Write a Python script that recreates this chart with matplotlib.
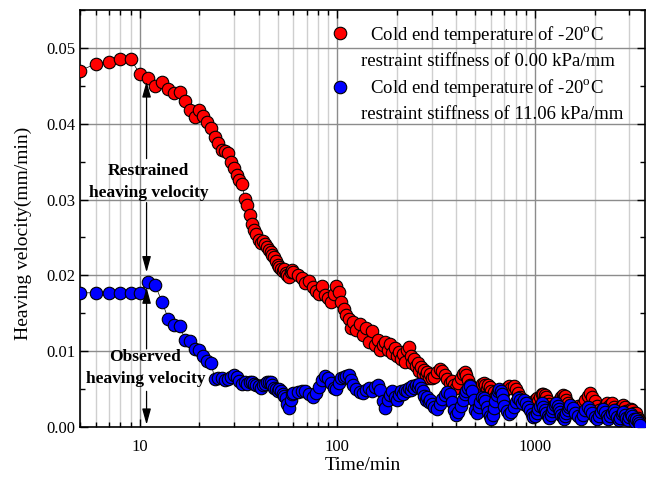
import numpy as np
import matplotlib
matplotlib.use("Agg")
import matplotlib.pyplot as plt
from matplotlib import ticker
from matplotlib.lines import Line2D

plt.rcParams['font.family'] = ['Liberation Serif', 'DejaVu Serif']
plt.rcParams['mathtext.fontset'] = 'custom'
plt.rcParams['mathtext.rm'] = 'Liberation Serif'

# sampling times (min)
t_seg1 = np.arange(5, 61)
t_seg2 = np.arange(63, 121, 3)
t_seg3 = np.arange(125, 301, 5)
t_seg4 = np.arange(310, 701, 10)
t_seg5 = np.arange(720, 1501, 20)
t_seg6 = np.arange(1550, 3401, 50)
t_all = np.concatenate([t_seg1, t_seg2, t_seg3, t_seg4, t_seg5, t_seg6])

# 0.00 kPa/mm
red_1 = [0.0470, 0.0479, 0.0482, 0.0486, 0.0486, 0.0466, 0.0461, 0.0450, 0.0455, 0.0446,
         0.0441, 0.0442, 0.0430, 0.0418, 0.0409, 0.0418, 0.0410, 0.0402, 0.0394, 0.0382,
         0.0374, 0.0366, 0.0364, 0.0361, 0.0349, 0.0342, 0.0333, 0.0326, 0.0321, 0.0301,
         0.0293, 0.0280, 0.0268, 0.0260, 0.0254, 0.0247, 0.0243, 0.0246, 0.0241, 0.0238,
         0.0234, 0.0231, 0.0227, 0.0224, 0.0219, 0.0214, 0.0211, 0.0209, 0.0206, 0.0208,
         0.0203, 0.0200, 0.0198, 0.0205, 0.0207, 0.0204]
red_2 = [0.0201, 0.0196, 0.0190, 0.0193, 0.0185, 0.0180, 0.0176, 0.0186, 0.0174, 0.0170,
         0.0165, 0.0175, 0.0186, 0.0178, 0.0165, 0.0156, 0.0148, 0.0143, 0.0130, 0.0138]
red_3 = [0.0128, 0.0136, 0.0122, 0.0130, 0.0112, 0.0126, 0.0108, 0.0115, 0.0102, 0.0108,
         0.0112, 0.0101, 0.0110, 0.0098, 0.0104, 0.0093, 0.0099, 0.0090, 0.0096, 0.0086,
         0.0101, 0.0106, 0.0094, 0.0085, 0.0090, 0.0080, 0.0084, 0.0074, 0.0079, 0.0070,
         0.0075, 0.0068, 0.0072, 0.0065, 0.0070, 0.0064]
red_4 = [0.0066, 0.0072, 0.0076, 0.0074, 0.0068, 0.0063, 0.0058, 0.0061, 0.0055, 0.0052,
         0.0058, 0.0064, 0.0070, 0.0073, 0.0069, 0.0062, 0.0055, 0.0050, 0.0046, 0.0050,
         0.0044, 0.0050, 0.0053, 0.0057, 0.0058, 0.0055, 0.0050, 0.0056, 0.0053, 0.0047,
         0.0042, 0.0046, 0.0040, 0.0044, 0.0038, 0.0042, 0.0036, 0.0040, 0.0045, 0.0049]
red_5 = [0.0052, 0.0054, 0.0051, 0.0054, 0.0050, 0.0045, 0.0040, 0.0035, 0.0030, 0.0033,
         0.0028, 0.0032, 0.0026, 0.0031, 0.0035, 0.0038, 0.0034, 0.0040, 0.0043, 0.0044,
         0.0042, 0.0039, 0.0034, 0.0030, 0.0026, 0.0023, 0.0027, 0.0022, 0.0026, 0.0030,
         0.0034, 0.0037, 0.0040, 0.0042, 0.0039, 0.0041, 0.0036, 0.0031, 0.0027, 0.0024]
red_6 = [0.0020, 0.0024, 0.0028, 0.0025, 0.0030, 0.0036, 0.0041, 0.0045, 0.0040, 0.0034,
         0.0028, 0.0023, 0.0019, 0.0024, 0.0028, 0.0031, 0.0026, 0.0029, 0.0031, 0.0027,
         0.0022, 0.0018, 0.0021, 0.0025, 0.0028, 0.0029, 0.0026, 0.0021, 0.0017, 0.0020,
         0.0024, 0.0022, 0.0019, 0.0015, 0.0018, 0.0012, 0.0009, 0.0006]

# 11.06 kPa/mm
blue_1 = [0.0177, 0.0177, 0.0177, 0.0177, 0.0177, 0.0177, 0.0191, 0.0187, 0.0165, 0.0142,
          0.0134, 0.0133, 0.0115, 0.0114, 0.0103, 0.0101, 0.0094, 0.0087, 0.0085, 0.0063,
          0.0064, 0.0065, 0.0062, 0.0063, 0.0066, 0.0068, 0.0066, 0.0061, 0.0057, 0.0059,
          0.0057, 0.0060, 0.0059, 0.0057, 0.0055, 0.0054, 0.0052, 0.0055, 0.0057, 0.0059,
          0.0060, 0.0059, 0.0055, 0.0052, 0.0050, 0.0048, 0.0050, 0.0047, 0.0044, 0.0041,
          0.0038, 0.0030, 0.0025, 0.0035, 0.0043, 0.0045]
blue_2 = [0.0046, 0.0048, 0.0047, 0.0044, 0.0040, 0.0045, 0.0053, 0.0062, 0.0067, 0.0065,
          0.0058, 0.0052, 0.0050, 0.0058, 0.0064, 0.0066, 0.0067, 0.0068, 0.0062, 0.0055]
blue_3 = [0.0050, 0.0046, 0.0045, 0.0049, 0.0052, 0.0048, 0.0053, 0.0055, 0.0049, 0.0034,
          0.0025, 0.0035, 0.0042, 0.0047, 0.0040, 0.0036, 0.0042, 0.0047, 0.0044, 0.0049,
          0.0047, 0.0051, 0.0049, 0.0054, 0.0051, 0.0056, 0.0053, 0.0057, 0.0052, 0.0047,
          0.0041, 0.0036, 0.0039, 0.0033, 0.0036, 0.0030]
blue_4 = [0.0026, 0.0024, 0.0030, 0.0037, 0.0042, 0.0046, 0.0043, 0.0033, 0.0022, 0.0016,
          0.0020, 0.0028, 0.0036, 0.0043, 0.0048, 0.0052, 0.0054, 0.0047, 0.0035, 0.0022,
          0.0018, 0.0026, 0.0033, 0.0040, 0.0038, 0.0034, 0.0027, 0.0020, 0.0014, 0.0011,
          0.0016, 0.0025, 0.0034, 0.0042, 0.0047, 0.0050, 0.0048, 0.0044, 0.0036, 0.0028]
blue_5 = [0.0021, 0.0017, 0.0020, 0.0026, 0.0033, 0.0038, 0.0036, 0.0031, 0.0035, 0.0032,
          0.0027, 0.0022, 0.0017, 0.0013, 0.0015, 0.0019, 0.0024, 0.0028, 0.0031, 0.0027,
          0.0022, 0.0018, 0.0014, 0.0012, 0.0016, 0.0021, 0.0025, 0.0029, 0.0031, 0.0028,
          0.0024, 0.0020, 0.0016, 0.0013, 0.0011, 0.0014, 0.0018, 0.0023, 0.0026, 0.0029]
blue_6 = [0.0025, 0.0019, 0.0014, 0.0011, 0.0016, 0.0022, 0.0026, 0.0023, 0.0018, 0.0013,
          0.0010, 0.0015, 0.0020, 0.0024, 0.0020, 0.0015, 0.0011, 0.0014, 0.0019, 0.0022,
          0.0018, 0.0013, 0.0009, 0.0012, 0.0017, 0.0020, 0.0016, 0.0012, 0.0009, 0.0013,
          0.0017, 0.0014, 0.0010, 0.0007, 0.0010, 0.0008, 0.0005, 0.0003]

v_red = np.array(red_1 + red_2 + red_3 + red_4 + red_5 + red_6)
v_blue = np.array(blue_1 + blue_2 + blue_3 + blue_4 + blue_5 + blue_6)

labels = ["  Cold end temperature of -20$^\\mathrm{o}$C",
          "restraint stiffness of 0.00 kPa/mm",
          "  Cold end temperature of -20$^\\mathrm{o}$C",
          "restraint stiffness of 11.06 kPa/mm"]

fig = plt.figure(figsize=(6.48, 4.78), dpi=100)
ax = fig.add_axes([0.1235, 0.1067, 0.8719, 0.8723])

ms = 9.0
ax.plot(t_all, v_red, '-o', color='k', lw=0.5, mfc='red', mec='k', mew=0.8, ms=ms, zorder=3)
ax.plot(t_all, v_blue, '-o', color='k', lw=0.5, mfc='blue', mec='k', mew=0.8, ms=ms, zorder=4)

ax.set_xscale('log')
ax.set_xlim(5, 3600)
ax.set_ylim(0, 0.055)
ax.xaxis.set_major_formatter(ticker.FormatStrFormatter('%d'))
ax.xaxis.set_minor_formatter(ticker.NullFormatter())
ax.yaxis.set_major_locator(ticker.MultipleLocator(0.01))
ax.yaxis.set_minor_locator(ticker.MultipleLocator(0.005))
ax.yaxis.set_major_formatter(ticker.FormatStrFormatter('%.2f'))

ax.grid(True, which='major', axis='both', color='#8c8c8c', lw=1.0, zorder=0)
ax.grid(True, which='minor', axis='x', color='#cfcfcf', lw=1.0, zorder=0)
ax.set_axisbelow(True)

ax.tick_params(which='both', direction='in', top=True, right=True, labelsize=12)
ax.tick_params(which='major', length=6, width=1)
ax.tick_params(which='minor', length=3.5, width=1)
ax.tick_params(axis='x', pad=9)
for s in ax.spines.values():
    s.set_linewidth(1.2)

ax.set_xlabel('Time/min', fontsize=14, labelpad=1)
ax.set_ylabel('Heaving velocity(mm/min)', fontsize=14)
ax.yaxis.set_label_coords(-0.085, 0.465)

# annotations
ax.text(11.1, 0.0323, 'Restrained\nheaving velocity', ha='center', va='center',
        fontsize=12.5, fontweight='bold', linespacing=1.45, zorder=5)
ax.text(10.7, 0.0078, 'Observed\nheaving velocity', ha='center', va='center',
        fontsize=12.5, fontweight='bold', linespacing=1.45, zorder=5)
arr = dict(arrowstyle='-|>,head_length=0.8,head_width=0.22', color='k', lw=0.9,
           mutation_scale=12, shrinkA=0, shrinkB=0)
x_arrow = 10.85
ax.annotate('', xy=(x_arrow, 0.0456), xytext=(x_arrow, 0.0354), arrowprops=arr, zorder=5)
ax.annotate('', xy=(x_arrow, 0.0204), xytext=(x_arrow, 0.0296), arrowprops=arr, zorder=5)
ax.annotate('', xy=(x_arrow, 0.0184), xytext=(x_arrow, 0.0103), arrowprops=arr, zorder=5)
ax.annotate('', xy=(x_arrow, 0.0003), xytext=(x_arrow, 0.0047), arrowprops=arr, zorder=5)

# legend: marker on the first line of each entry
h_red = Line2D([], [], ls='none', marker='o', mfc='red', mec='k', mew=0.8, ms=ms)
h_blue = Line2D([], [], ls='none', marker='o', mfc='blue', mec='k', mew=0.8, ms=ms)
h_none = Line2D([], [], ls='none', marker=None)
leg = ax.legend([h_red, h_none, h_blue, h_none], labels, loc='upper left',
                bbox_to_anchor=(0.445, 0.967), frameon=False, fontsize=13.5,
                handlelength=0.9, handletextpad=0.7, labelspacing=0.38,
                borderpad=0, borderaxespad=0)

fig.savefig('out.png', dpi=100)
